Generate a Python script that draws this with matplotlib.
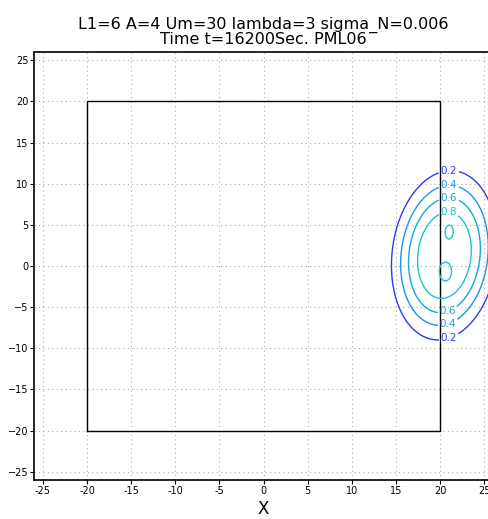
import numpy as np
import matplotlib
matplotlib.use("Agg")
import matplotlib.pyplot as plt

# field description
base_center = (20.5, 1.3)
base_amp = 0.985
base_scale = (5.1, 8.8)        # x / y half-widths
base_power = 3.0
base_tilt = 0.07               # x shift of the centre per unit of y
bump_x = [21.1, 20.7]
bump_y = [4.6, -1.25]
bump_amp = [0.095, 0.07]
bump_sx = [0.5, 0.65]
bump_sy = [0.85, 1.0]

levels = [0.2, 0.4, 0.6, 0.8, 1.0]
colors = ["#2d3cf0", "#1a96e8", "#10aad8", "#18c8c8", "#18c8c8"]
label_pos = [(21.0, 11.3), (21.0, 9.8), (21.0, 8.4), (21.0, 7.1),
             (21.0, -5.8), (21.0, -7.3), (21.0, -8.7)]

box = [-20, 20, -20, 20]
ticks = [-25, -20, -15, -10, -5, 0, 5, 10, 15, 20, 25]
title = "L1=6 A=4 Um=30 lambda=3 sigma_N=0.006\nTime t=16200Sec. PML06"

x = np.linspace(-26, 26, 521)
y = np.linspace(-26, 26, 521)
X, Y = np.meshgrid(x, y)
dx = (X - base_center[0] - base_tilt * (Y - base_center[1])) / base_scale[0]
dy = (Y - base_center[1]) / base_scale[1]
Z = base_amp * np.exp(-np.sqrt(dx ** 2 + dy ** 2) ** base_power)
for bx, by, ba, sx, sy in zip(bump_x, bump_y, bump_amp, bump_sx, bump_sy):
    Z += ba * np.exp(-((X - bx) ** 2 / (2 * sx ** 2) + (Y - by) ** 2 / (2 * sy ** 2)))

fig = plt.figure(figsize=(4.88, 5.19), dpi=100)
ax = fig.add_axes([34 / 488, 39 / 519, 459 / 488, 428 / 519])

for t in ticks:
    ax.axvline(t, color="#aaaaaa", ls=(0, (1, 3)), lw=0.8, zorder=0)
    ax.axhline(t, color="#aaaaaa", ls=(0, (1, 3)), lw=0.8, zorder=0)

ax.plot([box[0], box[1], box[1], box[0], box[0]],
        [box[2], box[2], box[3], box[3], box[2]], color="black", lw=1.0)

cs = ax.contour(X, Y, Z, levels=levels, colors=colors, linewidths=1.0)
lab = ax.clabel(cs, levels=levels[:4], fontsize=7.5, fmt="%.1f",
                manual=label_pos, inline=True, inline_spacing=2)
for t in lab:
    t.set_rotation(0)

ax.set_xlim(-26, 26)
ax.set_ylim(-26, 26)
ax.set_xticks(ticks)
ax.set_yticks(ticks)
ax.set_xticklabels([str(t) for t in ticks])
ax.tick_params(labelsize=7, length=3, width=0.8, direction="out", pad=1)
for s in ax.spines.values():
    s.set_linewidth(1.2)

ax.set_title(title, fontsize=11.5, linespacing=0.9, pad=6)
ax.set_xlabel("X", fontsize=12, labelpad=3)

fig.savefig("out.png", dpi=100)
